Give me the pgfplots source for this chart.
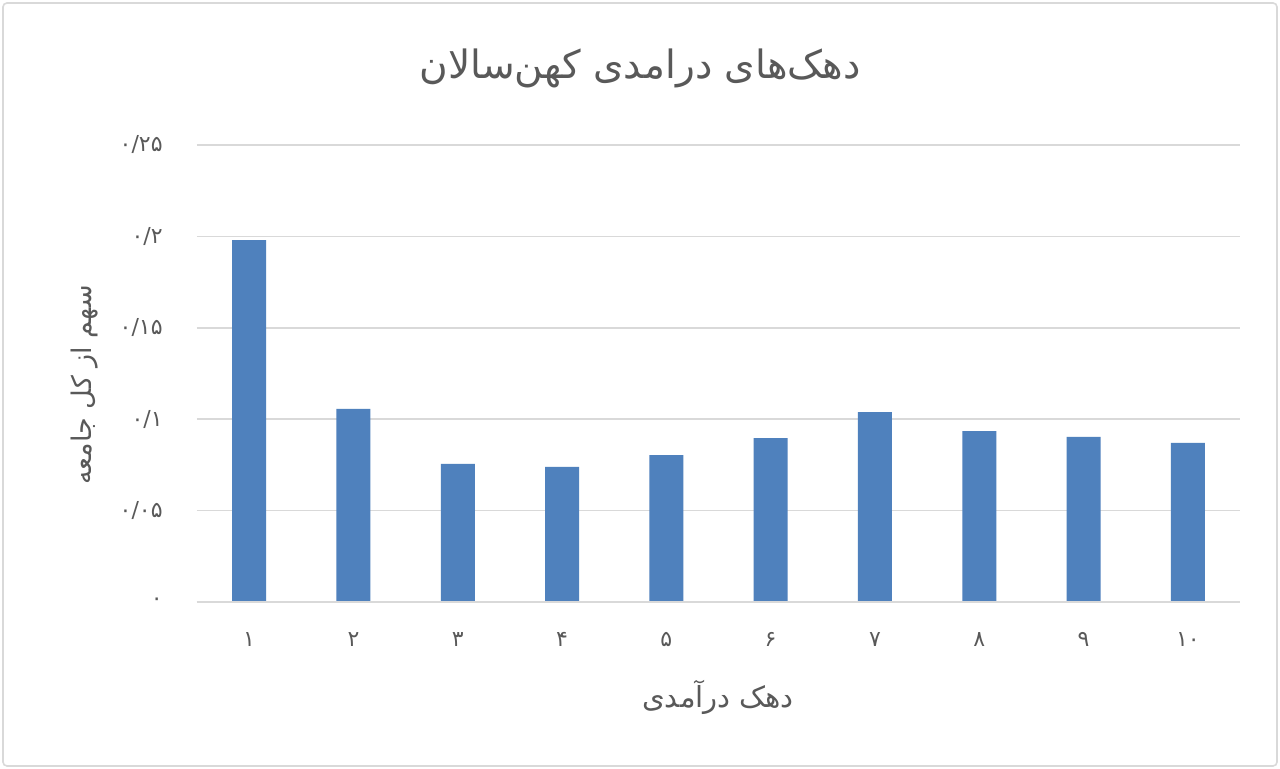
\documentclass[border=0pt]{standalone}
\usepackage{pgfplots}
\pgfplotsset{compat=1.18}
\usepackage{fontspec}
\setmainfont{DejaVu Sans}
\newfontfamily\arabicfont[Script=Arabic]{DejaVu Sans}
\TeXXeTstate=1
\definecolor{barblue}{RGB}{79,129,189}
\definecolor{gridgray}{RGB}{217,217,217}
\definecolor{txtgray}{RGB}{89,89,89}
\begin{document}
\begin{tikzpicture}
\fill[white] (0,0) rectangle (640pt,384.5pt);
\draw[gridgray, line width=0.8pt, rounded corners=2pt] (1.5pt,1.5pt) rectangle (638.5pt,383pt);
\begin{axis}[
  at={(98.5pt,83.5pt)}, anchor=south west,
  scale only axis, width=521.5pt, height=228.5pt,
  xmin=0.5, xmax=10.5, ymin=0, ymax=0.25,
  ybar, bar width=17pt,
  axis line style={draw=none},
  major tick length=0pt,
  xtick={1,...,10},
  xticklabels={۱,۲,۳,۴,۵,۶,۷,۸,۹,۱۰},
  ytick={0,0.05,0.1,0.15,0.2,0.25},
  yticklabels={۰,۰/۰۵,۰/۱,۰/۱۵,۰/۲,۰/۲۵},
  ymajorgrids, grid style={gridgray, line width=0.8pt},
  xticklabel style={font=\arabicfont\fontsize{11}{13}\selectfont, text=txtgray, anchor=north, inner sep=0pt, yshift=-15pt},
  yticklabel style={font=\arabicfont\fontsize{11}{13}\selectfont, text=txtgray, anchor=east, inner sep=0pt, xshift=-17pt},
  clip=false,
]
\addplot[fill=barblue, draw=none, bar shift=0pt] coordinates {
 (1,0.198) (2,0.1056) (3,0.0755) (4,0.0739) (5,0.0804)
 (6,0.0897) (7,0.1039) (8,0.0935) (9,0.0903) (10,0.0870)
};
\draw[gridgray, line width=0.8pt] (axis cs:0.5,0) -- (axis cs:10.5,0);
\end{axis}
\node[text=txtgray, font=\arabicfont\fontsize{19.5}{23}\selectfont] at (320pt,350.5pt) {\beginR دهک‌های درامدی کهن‌سالان\endR};
\node[text=txtgray, font=\arabicfont\fontsize{14.5}{17}\selectfont] at (359pt,36pt) {\beginR دهک درآمدی\endR};
\node[text=txtgray, font=\arabicfont\fontsize{13.5}{16}\selectfont, rotate=90] at (42.5pt,192pt) {\beginR سهم از کل جامعه\endR};
\end{tikzpicture}
\end{document}
